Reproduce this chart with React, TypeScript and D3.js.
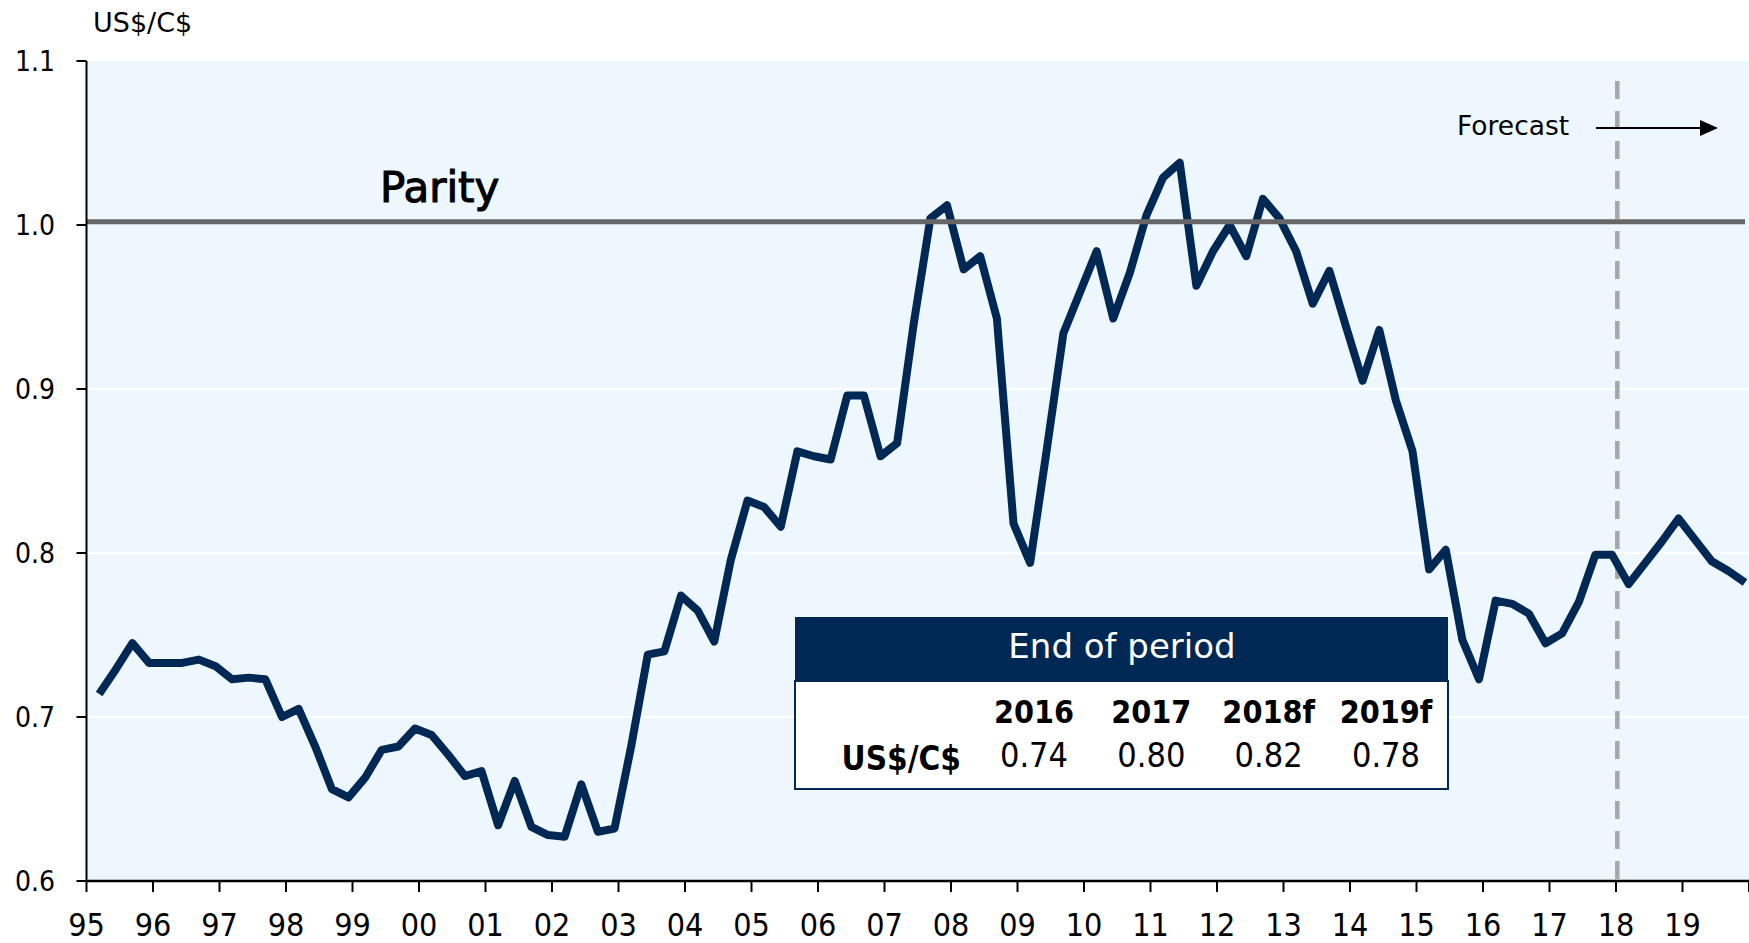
import React from 'react';
import * as d3 from 'd3';

// ---- data ----
const startYear = 1995;
const endYear = 2020;
// US$/C$ quarterly, 1995Q1 .. 2019Q4 (2018-2019 forecast)
const usdPerCad = [
  0.714, 0.729, 0.745, 0.733,
  0.733, 0.733, 0.735, 0.731,
  0.723, 0.724, 0.723, 0.700,
  0.705, 0.682, 0.656, 0.651,
  0.663, 0.680, 0.682, 0.693,
  0.689, 0.677, 0.664, 0.667,
  0.634, 0.661, 0.633, 0.628,
  0.627, 0.659, 0.630, 0.632,
  0.682, 0.738, 0.740, 0.774,
  0.765, 0.746, 0.796, 0.832,
  0.828, 0.816, 0.862, 0.859,
  0.857, 0.896, 0.896, 0.859,
  0.867, 0.940, 1.004, 1.012,
  0.973, 0.981, 0.943, 0.818,
  0.794, 0.863, 0.934, 0.959,
  0.984, 0.943, 0.971, 1.006,
  1.029, 1.038, 0.963, 0.984,
  1.000, 0.981, 1.016, 1.004,
  0.984, 0.952, 0.972, 0.938,
  0.905, 0.936, 0.893, 0.862,
  0.790, 0.802, 0.747, 0.723,
  0.771, 0.769, 0.763, 0.745,
  0.751, 0.770, 0.799, 0.799,
  0.781, 0.794, 0.807, 0.821,
  0.808, 0.795, 0.789, 0.782,
];
const yTicks = [0.6, 0.7, 0.8, 0.9, 1.0, 1.1];
const gridValues = [0.7, 0.8, 0.9];
const xTickYears = d3.range(startYear, endYear + 1);
const xTickLabels = ['95','96','97','98','99','00','01','02','03','04','05','06','07','08','09','10','11','12','13','14','15','16','17','18','19'];
const parityValue = 1.002;
const forecastStart = 2018.02;
const tableYears = ['2016', '2017', '2018f', '2019f'];
const tableValues = ['0.74', '0.80', '0.82', '0.78'];

const W = 1749, H = 943;
const NAVY = '#002855';
const COND = "'DejaVu Sans Condensed', 'DejaVu Sans', sans-serif";
const REG = "'DejaVu Sans', sans-serif";

export default function App() {
  const x = d3.scaleLinear().domain([startYear, endYear]).range([86.5, 1749]);
  const y = d3.scaleLinear().domain([0.6, 1.1]).range([881, 61]);
  const pts = usdPerCad.map((v, i) => ({ t: startYear + (i + 1) / 4 - 0.06, v }));
  const line = d3.line<{ t: number; v: number }>().x(d => x(d.t)).y(d => y(d.v));
  const lastT = pts[pts.length - 1].t;

  const colX = d3.scalePoint<string>().domain(tableYears).range([1034, 1386]);

  return (
    <svg width={W} height={H} style={{ position: 'absolute', left: 0, top: 0, background: '#fff' }}>
      {/* plot background */}
      <rect x={x(startYear)} y={y(1.1)} width={x(endYear) - x(startYear)} height={y(0.6) - y(1.1)} fill="#eff7fe" />
      {gridValues.map(g => (
        <line key={g} x1={x(startYear)} x2={x(endYear)} y1={y(g)} y2={y(g)} stroke="#ffffff" strokeWidth={2} />
      ))}

      {/* forecast dashed line */}
      <line x1={x(forecastStart)} x2={x(forecastStart)} y1={81} y2={y(0.6)} stroke="#a6a6a6" strokeWidth={4.5} strokeDasharray="18 12" />

      {/* series */}
      <path d={line(pts) || ''} fill="none" stroke={NAVY} strokeWidth={8} strokeLinejoin="round" />

      {/* parity */}
      <line x1={x(startYear)} x2={x(lastT)} y1={y(parityValue)} y2={y(parityValue)} stroke="#666666" strokeWidth={5} />
      <text x={380} y={202} fontFamily={REG} fontSize={42} fill="#000" stroke="#000" strokeWidth={1.1}>Parity</text>

      {/* forecast label */}
      <text x={1457} y={135} fontFamily={REG} fontSize={26.5} fill="#000">Forecast</text>
      <line x1={1596} x2={1702} y1={128} y2={128} stroke="#000" strokeWidth={2} />
      <path d="M1700,120 L1718,128 L1700,136 Z" fill="#000" />

      {/* axes */}
      <line x1={x(startYear)} x2={x(startYear)} y1={y(1.1)} y2={y(0.6)} stroke="#000" strokeWidth={2} />
      <line x1={x(startYear)} x2={x(endYear)} y1={y(0.6)} y2={y(0.6)} stroke="#000" strokeWidth={2.5} />
      {yTicks.map(t => (
        <g key={t}>
          <line x1={x(startYear) - 10} x2={x(startYear)} y1={y(t)} y2={y(t)} stroke="#000" strokeWidth={2} />
          <text x={55} y={y(t)} dy="0.36em" textAnchor="end" fontFamily={COND} fontSize={28} fill="#000">{t.toFixed(1)}</text>
        </g>
      ))}
      {xTickYears.map(t => (
        <line key={t} x1={x(t)} x2={x(t)} y1={y(0.6)} y2={y(0.6) + 11} stroke="#000" strokeWidth={2} />
      ))}
      {xTickLabels.map((lab, i) => (
        <text key={lab + i} x={x(startYear + i)} y={936} textAnchor="middle" fontFamily={COND} fontSize={32} fill="#000">{lab}</text>
      ))}
      <text x={93} y={32} fontFamily={REG} fontSize={27} fill="#000">US$/C$</text>

      {/* table */}
      <rect x={795} y={681} width={653} height={108} fill="#fff" stroke={NAVY} strokeWidth={2} />
      <rect x={795} y={617} width={653} height={64} fill={NAVY} />
      <text x={1122} y={658} textAnchor="middle" fontFamily={REG} fontSize={34} fill="#fff">End of period</text>
      {tableYears.map(ty => (
        <text key={ty} x={colX(ty)} y={723} textAnchor="middle" fontFamily={COND} fontWeight="bold" fontSize={32} fill="#000">{ty}</text>
      ))}
      <text x={961} y={770} textAnchor="end" fontFamily={COND} fontWeight="bold" fontSize={33} fill="#000">US$/C$</text>
      {tableValues.map((tv, i) => (
        <text key={tableYears[i]} x={colX(tableYears[i])} y={767} textAnchor="middle" fontFamily={COND} fontSize={34} fill="#000">{tv}</text>
      ))}
    </svg>
  );
}
